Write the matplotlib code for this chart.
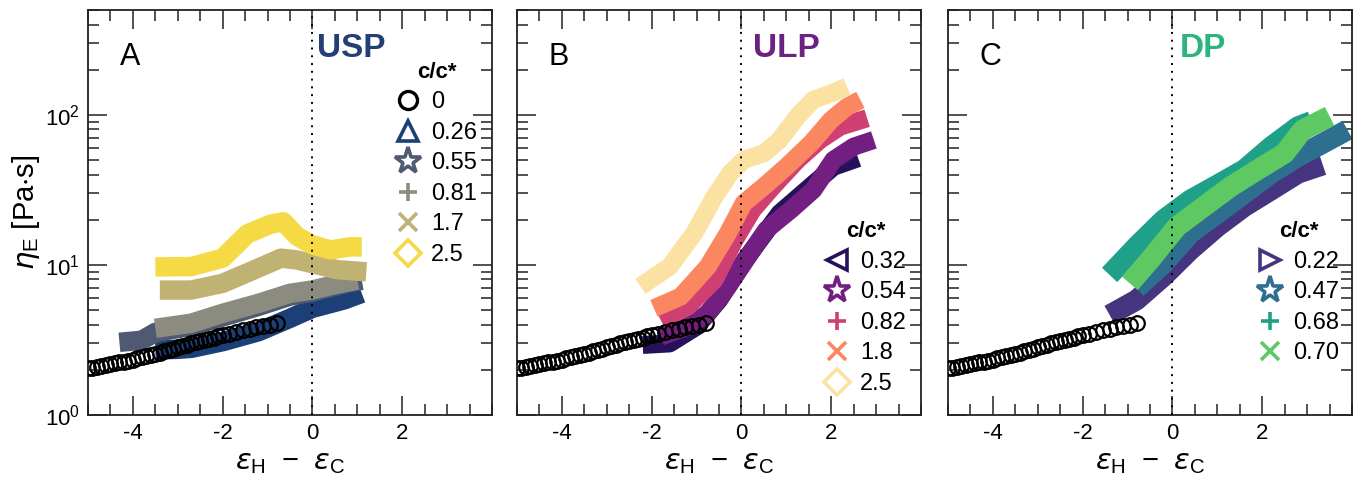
import matplotlib
matplotlib.use("Agg")
import matplotlib.pyplot as plt
from matplotlib.lines import Line2D
from matplotlib.ticker import FixedLocator, MultipleLocator, LogLocator, NullFormatter

plt.rcParams['font.family'] = ['Liberation Sans', 'DejaVu Sans']
plt.rcParams['axes.unicode_minus'] = False
plt.rcParams['mathtext.fontset'] = 'custom'
plt.rcParams['mathtext.rm'] = 'Liberation Sans'
plt.rcParams['mathtext.it'] = 'DejaVu Sans:italic'
plt.rcParams['mathtext.default'] = 'regular'

# ---------------- data ----------------
# solvent (c/c* = 0), shared by all panels
c0_x = [-5.0, -4.9, -4.8, -4.7, -4.6, -4.5, -4.4, -4.3, -4.2, -4.1, -4.0, -3.9, -3.8,
        -3.7, -3.6, -3.5, -3.4, -3.3, -3.2, -3.1, -3.0, -2.9, -2.8, -2.7, -2.6, -2.5,
        -2.4, -2.3, -2.2, -2.1, -2.0, -1.85, -1.7, -1.55, -1.4, -1.25, -1.1, -0.95, -0.8]
c0_y = [2.05, 2.07, 2.10, 2.12, 2.15, 2.18, 2.21, 2.24, 2.27, 2.30, 2.34, 2.38, 2.42,
        2.46, 2.51, 2.55, 2.60, 2.65, 2.70, 2.76, 2.82, 2.88, 2.94, 3.00, 3.05, 3.11,
        3.17, 3.22, 3.28, 3.34, 3.40, 3.49, 3.58, 3.67, 3.76, 3.84, 3.92, 4.00, 4.08]

# Panel A: USP
usp_labels = ['0.26', '0.55', '0.81', '1.7', '2.5']
usp_026_x = [-3.5, -3.0, -2.7, -2.0, -1.2, -0.5, 0.0, 0.7, 1.1]
usp_026_y = [2.71, 2.74, 2.78, 3.08, 3.59, 4.41, 5.14, 5.84, 6.47]
usp_055_x = [-4.3, -3.8, -3.5, -2.7, -2.0, -1.2, -0.5, 0.0, 0.8, 1.1]
usp_055_y = [3.05, 3.15, 3.55, 3.90, 4.50, 5.30, 6.20, 6.60, 7.60, 7.90]
usp_081_x = [-3.5, -2.7, -2.0, -1.2, -0.5, 0.0, 0.5, 1.0]
usp_081_y = [3.78, 4.09, 4.76, 5.55, 6.47, 6.81, 7.40, 7.94]
usp_17_x = [-3.4, -2.7, -2.0, -1.4, -0.7, -0.35, 0.0, 0.55, 1.2]
usp_17_y = [6.8, 6.8, 7.54, 9.0, 11.1, 10.8, 10.2, 9.3, 9.0]
usp_25_x = [-3.5, -2.7, -2.0, -1.45, -0.93, -0.65, -0.34, 0.0, 0.4, 0.85, 1.1]
usp_25_y = [9.7, 9.75, 11.1, 16.1, 18.7, 19.4, 15.5, 13.6, 12.6, 13.2, 13.2]

# Panel B: ULP
ulp_labels = ['0.32', '0.54', '0.82', '1.8', '2.5']
ulp_032_x = [-2.2, -1.6, -1.0, -0.5, 0.1, 0.85, 1.45, 2.05, 2.6]
ulp_032_y = [2.93, 3.0, 3.88, 5.84, 11.0, 22.1, 31.6, 45.1, 51.5]
ulp_054_x = [-1.8, -1.2, -0.75, -0.3, 0.15, 0.55, 1.1, 1.6, 2.05, 2.5, 2.95]
ulp_054_y = [3.33, 3.88, 4.76, 7.18, 11.4, 17.1, 23.3, 31.6, 50.1, 61.4, 68.1]
ulp_082_x = [-1.8, -1.2, -0.6, -0.15, 0.25, 0.7, 1.25, 1.75, 2.2, 2.8]
ulp_082_y = [4.3, 5.27, 7.94, 14.7, 23.3, 33.3, 50.1, 68.1, 83.5, 95.0]
ulp_18_x = [-1.95, -1.35, -0.75, -0.3, 0.05, 0.5, 1.0, 1.55, 2.0, 2.35, 2.65]
ulp_18_y = [5.14, 6.16, 9.75, 16.3, 25.8, 33.3, 45.1, 64.7, 92.6, 113, 126]
ulp_25_x = [-2.25, -1.6, -1.05, -0.6, -0.25, 0.05, 0.5, 0.85, 1.25, 1.6, 2.0, 2.35]
ulp_25_y = [7.2, 9.75, 16.3, 28.5, 40.9, 50.1, 55.5, 68.1, 97.9, 126, 139, 154]

# Panel C: DP
dp_labels = ['0.22', '0.47', '0.68', '0.70']
dp_022_x = [-1.4, -0.8, -0.2, 0.4, 1.0, 1.6, 2.2, 2.8, 3.35]
dp_022_y = [4.64, 5.84, 8.39, 12.6, 18.0, 24.5, 31.6, 40.9, 46.4]
dp_047_x = [-0.8, -0.2, 0.4, 1.0, 1.6, 2.2, 2.8, 3.35, 3.9]
dp_047_y = [7.0, 10.2, 16.3, 22.1, 30.0, 40.9, 52.8, 64.7, 79.4]
dp_068_x = [-1.4, -0.8, -0.2, 0.4, 1.0, 1.6, 2.2, 2.8, 3.1]
dp_068_y = [8.58, 13.3, 19.95, 27.1, 34.1, 43.1, 61.4, 83.5, 90.4]
dp_070_x = [-0.95, -0.5, 0.1, 0.7, 1.3, 1.9, 2.5, 2.9, 3.5]
dp_070_y = [7.54, 10.8, 18.0, 24.5, 33.3, 43.1, 55.5, 79.4, 97.9]

x_tick_labels = ['-4', '-2', '0', '2']

# ---------------- styles ----------------
usp_colors = ['#1c3f78', '#4f5a72', '#8c8b80', '#c0b273', '#f5da46']
ulp_colors = ['#25125a', '#731f81', '#cf3f72', '#fb8760', '#fce2a2']
dp_colors = ['#463480', '#2e6e8e', '#1fa088', '#5ec962']
usp_markers = ['^', '*', '+', 'x', 'D']
ulp_markers = ['<', '*', '+', 'x', 'D']
dp_markers = ['>', '*', '+', 'x']

panels = [
    dict(letter='A', name='USP', name_color='#233f75', labels=usp_labels,
         colors=usp_colors, markers=usp_markers, lw=14,
         series=[(usp_026_x, usp_026_y), (usp_055_x, usp_055_y), (usp_081_x, usp_081_y),
                 (usp_17_x, usp_17_y), (usp_25_x, usp_25_y)],
         with_zero=True, leg_anchor=(0.762, 0.872), name_x=0.566),
    dict(letter='B', name='ULP', name_color='#6c2283', labels=ulp_labels,
         colors=ulp_colors, markers=ulp_markers, lw=13,
         series=[(ulp_032_x, ulp_032_y), (ulp_054_x, ulp_054_y), (ulp_082_x, ulp_082_y),
                 (ulp_18_x, ulp_18_y), (ulp_25_x, ulp_25_y)],
         with_zero=False, leg_anchor=(0.762, 0.478), name_x=0.584),
    dict(letter='C', name='DP', name_color='#2db47e', labels=dp_labels,
         colors=dp_colors, markers=dp_markers, lw=15,
         series=[(dp_022_x, dp_022_y), (dp_047_x, dp_047_y), (dp_068_x, dp_068_y),
                 (dp_070_x, dp_070_y)],
         with_zero=False, leg_anchor=(0.767, 0.478), name_x=0.574),
]

fig = plt.figure(figsize=(13.69, 4.87), dpi=100)
W, H = 1369, 487
lefts = [88, 517, 948]
axw, axh = 404, 405
bottom = 415

for i, p in enumerate(panels):
    ax = fig.add_axes([lefts[i] / W, (H - bottom) / H, axw / W, axh / H])
    ax.set_yscale('log')
    ax.set_xlim(-5, 4)
    ax.set_ylim(1, 500)

    for (sx, sy), c, m in zip(p['series'], p['colors'], p['markers']):
        ax.plot(sx, sy, '-', color=c, lw=p['lw'], solid_joinstyle='round',
                solid_capstyle='butt', zorder=2)
    ax.plot(c0_x, c0_y, 'o', mfc='none', mec='black', mew=1.6, ms=10.5, zorder=3)

    ax.axvline(0, color='black', ls=(0, (1, 3)), lw=1.4, zorder=4)

    # ticks
    ax.xaxis.set_major_locator(FixedLocator([-4, -2, 0, 2]))
    ax.set_xticklabels(x_tick_labels)
    ax.xaxis.set_minor_locator(MultipleLocator(0.5))
    ax.yaxis.set_major_locator(LogLocator(base=10, numticks=10))
    ax.yaxis.set_minor_locator(LogLocator(base=10, subs=range(2, 10), numticks=20))
    ax.yaxis.set_minor_formatter(NullFormatter())
    ax.tick_params(which='both', direction='in', top=True, right=True,
                   width=1.1, color='#222222', labelsize=16)
    ax.tick_params(which='major', length=14, pad=6)
    ax.tick_params(which='minor', length=8)
    for s in ax.spines.values():
        s.set_linewidth(1.3)
        s.set_color('#222222')
    if i > 0:
        ax.tick_params(labelleft=False)
    else:
        ax.set_ylabel(r'$\mathit{\eta}_{\rm E}$ [Pa$\cdot$s]', fontsize=21, labelpad=2)
    ax.set_xlabel(r'$\mathit{\varepsilon}_{\rm H}\ -\ \mathit{\varepsilon}_{\rm C}$',
                  fontsize=21, labelpad=3)

    ax.text(0.079, 0.885, p['letter'], transform=ax.transAxes, fontsize=22,
            va='center', ha='left')
    ax.text(p['name_x'], 0.905, p['name'], transform=ax.transAxes, fontsize=24,
            fontweight='bold', color=p['name_color'], va='center', ha='left')

    handles, labels = [], []
    if p['with_zero']:
        handles.append(Line2D([], [], ls='none', marker='o', mfc='none', mec='black',
                              mew=2.4, ms=13))
        labels.append('0')
    for c, m, lab in zip(p['colors'], p['markers'], p['labels']):
        ms = 15
        if m == 'D':
            ms = 13
        if m in ['+', 'x']:
            ms = 13
        if m == '*':
            ms = 20
        handles.append(Line2D([], [], ls='none', marker=m, mfc='none', mec=c,
                              mew=2.6, ms=ms))
        labels.append(lab)
    leg = ax.legend(handles, labels, title='c/c*', loc='upper left',
                    bbox_to_anchor=p['leg_anchor'], frameon=False, fontsize=17,
                    title_fontproperties={'weight': 'bold', 'size': 16},
                    handlelength=1.0, handletextpad=0.5, labelspacing=0.36,
                    borderpad=0, borderaxespad=0)

fig.savefig('out.png', dpi=100)
